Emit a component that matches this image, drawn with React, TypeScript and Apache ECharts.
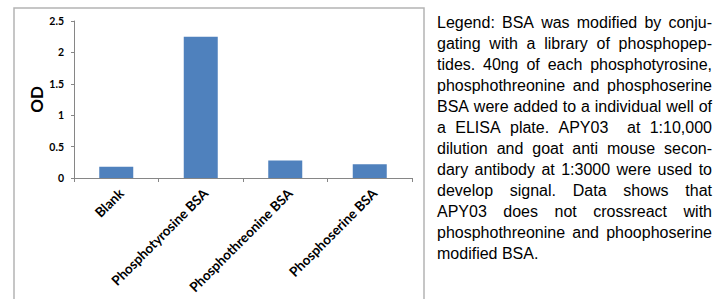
import React, { useEffect, useRef } from "react";
import * as echarts from "echarts";

const categories = [
  "Blank",
  "Phosphotyrosine BSA",
  "Phosphothreonine BSA",
  "Phosphoserine BSA",
];
const odValues = [0.18, 2.25, 0.28, 0.22];
const yMin = 0;
const yMax = 2.5;
const yInterval = 0.5;
const yAxisName = "OD";
const legendLines = [
  "Legend: BSA was modified by conju-",
  "gating with a library of phosphopep-",
  "tides. 40ng of each phosphotyrosine,",
  "phosphothreonine and phosphoserine",
  "BSA were added to a individual well of",
  "a ELISA plate. APY03  at 1:10,000",
  "dilution and goat anti mouse secon-",
  "dary antibody at 1:3000 were used to",
  "develop signal. Data shows that",
  "APY03 does not crossreact with",
  "phosphothreonine and phoophoserine",
  "modified BSA.",
];

const TEXT_FAMILY = "'Liberation Sans', Arial, sans-serif";
const TEXT_SIZE = 16;
const AXIS_FAMILY = "Lato, 'Liberation Sans', sans-serif";

function buildLegendText(): any[] {
  const canvas = document.createElement("canvas");
  const ctx = canvas.getContext("2d") as CanvasRenderingContext2D;
  ctx.font = `${TEXT_SIZE}px ${TEXT_FAMILY}`;
  const left = 437;
  const right = 712;
  const top = 22;
  const lh = 21;
  const els: any[] = [];
  legendLines.forEach((line, i) => {
    const y = top + i * lh;
    const style = {
      fontSize: TEXT_SIZE,
      fontFamily: TEXT_FAMILY,
      fill: "#000",
      align: "left",
      verticalAlign: "middle",
    };
    if (i === legendLines.length - 1) {
      els.push({ type: "text", x: left, y, style: { ...style, text: line } });
      return;
    }
    const tokens = line.split(" ");
    const widths = tokens.map((t) => ctx.measureText(t).width);
    const total = widths.reduce((a, b) => a + b, 0);
    const gap = (right - left - total) / (tokens.length - 1);
    let x = left;
    tokens.forEach((t, j) => {
      if (t) {
        els.push({ type: "text", x, y, style: { ...style, text: t } });
      }
      x += widths[j] + gap;
    });
  });
  return els;
}

export default function App() {
  const ref = useRef<HTMLDivElement>(null);

  useEffect(() => {
    if (!ref.current) return;
    const chart = echarts.init(ref.current, undefined, { renderer: "svg" });
    const axisColor = "#868686";
    chart.setOption({
      animation: false,
      backgroundColor: "#fff",
      grid: { left: 74, top: 21, width: 338, height: 157 },
      xAxis: {
        type: "category",
        data: categories,
        boundaryGap: true,
        axisLine: { lineStyle: { color: axisColor, width: 1 } },
        axisTick: { show: true, length: 4, alignWithLabel: false, lineStyle: { color: axisColor } },
        axisLabel: {
          interval: 0,
          rotate: 45,
          margin: 8,
          verticalAlign: "top",
          color: "#000",
          fontFamily: AXIS_FAMILY,
          fontWeight: "bold",
          fontSize: 13.5,
        },
        splitLine: { show: false },
      },
      yAxis: {
        type: "value",
        min: yMin,
        max: yMax,
        interval: yInterval,
        name: yAxisName,
        nameLocation: "middle",
        nameRotate: 90,
        nameGap: 25,
        nameTextStyle: {
          fontFamily: AXIS_FAMILY,
          fontWeight: "bold",
          fontSize: 17,
          color: "#000",
        },
        axisLine: { show: true, lineStyle: { color: axisColor, width: 1 } },
        axisTick: { show: true, length: 3, lineStyle: { color: axisColor } },
        axisLabel: {
          margin: 10,
          color: "#000",
          fontFamily: AXIS_FAMILY,
          fontWeight: "bold",
          fontSize: 10.5,
        },
        splitLine: { show: false },
      },
      series: [
        {
          type: "bar",
          data: odValues,
          barWidth: 34,
          itemStyle: { color: "#4f81bd" },
        },
      ],
      graphic: [
        {
          type: "rect",
          shape: { x: 14, y: 8, width: 410, height: 310 },
          style: { fill: "none", stroke: "#b4b4b4", lineWidth: 1.5 },
          silent: true,
        },
        ...buildLegendText(),
      ],
    });
    return () => chart.dispose();
  }, []);

  return (
    <div
      ref={ref}
      style={{ position: "absolute", left: 0, top: 0, width: 723, height: 299 }}
    />
  );
}
